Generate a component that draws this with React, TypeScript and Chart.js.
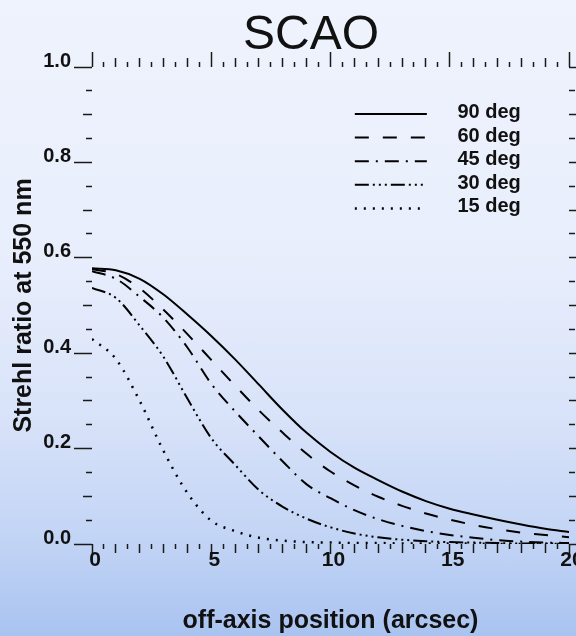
import React, { useEffect, useRef } from 'react';
import { Chart, registerables } from 'chart.js';

Chart.register(...registerables);

// ---- data ----
const offAxis = [0, 1, 2, 3, 4, 5, 6, 7, 8, 9, 10, 11, 12, 13, 14, 15, 16, 17, 18, 19, 20];
const strehl90 = [0.578, 0.574, 0.556, 0.523, 0.481, 0.436, 0.387, 0.334, 0.281, 0.233, 0.193, 0.160, 0.134, 0.110, 0.090, 0.074, 0.062, 0.051, 0.041, 0.032, 0.025];
const strehl60 = [0.576, 0.566, 0.536, 0.491, 0.440, 0.386, 0.332, 0.280, 0.233, 0.189, 0.152, 0.123, 0.099, 0.080, 0.064, 0.051, 0.040, 0.031, 0.024, 0.019, 0.014];
const strehl45 = [0.572, 0.556, 0.518, 0.474, 0.412, 0.336, 0.278, 0.225, 0.173, 0.125, 0.096, 0.071, 0.052, 0.038, 0.027, 0.019, 0.013, 0.008, 0.005, 0.003, 0.002];
const strehl30 = [0.537, 0.516, 0.458, 0.392, 0.305, 0.222, 0.166, 0.113, 0.078, 0.053, 0.035, 0.022, 0.014, 0.009, 0.006, 0.004, 0.003, 0.002, 0.001, 0.001, 0.000];
const strehl15 = [0.430, 0.388, 0.300, 0.195, 0.107, 0.049, 0.027, 0.013, 0.007, 0.004, 0.003, 0.002, 0.002, 0.001, 0.001, 0.001, 0.001, 0.000, 0.000, 0.000, 0.000];
const seriesLabels = ['90 deg', '60 deg', '45 deg', '30 deg', '15 deg'];
const xTickLabels = ['0', '5', '10', '15', '20'];
const yTickLabels = ['0.0', '0.2', '0.4', '0.6', '0.8', '1.0'];

const FONT = "'Liberation Sans', Arial, Helvetica, sans-serif";
const TICK_COLOR = '#1a1a1a';

const seriesValues = [strehl90, strehl60, strehl45, strehl30, strehl15];
const seriesDash = [[], [14, 14], [14, 7, 2, 7], [14, 4, 2, 4, 2, 4, 2, 4], [2, 7]];
const seriesWidth = [2, 2, 2, 2, 2.5];

// tick length helpers (major / mid / minor)
const yLen = (v: number, major: number) => {
  const k = Math.round(v * 20);
  if (k % 4 === 0) return major;
  if (k % 2 === 0) return 9;
  return 6;
};
const xLen = (v: number, major: number) => {
  const k = Math.round(v * 2);
  if (k % 10 === 0) return major;
  if (k % 2 === 0) return 9;
  return 5;
};
// ticks drawn from outer end to axis (left/top) vs from axis outwards (right/bottom)
const dashInward = (len: number, full: number) => (len >= full ? [] : [0, full - len, len, 200]);
const dashOutward = (len: number, full: number) => (len >= full ? [] : [len, 200]);

const insideLegend = {
  id: 'insideLegend',
  afterDatasetsDraw(chart: any) {
    const { ctx, chartArea: a } = chart;
    const w = a.right - a.left;
    const h = a.bottom - a.top;
    chart.data.datasets.forEach((ds: any, i: number) => {
      const y = a.top + h * (0.0985 + 0.0495 * i);
      const x1 = a.left + w * 0.551;
      const x2 = a.left + w * 0.702;
      const tx = a.left + w * 0.766;
      ctx.save();
      ctx.strokeStyle = ds.borderColor;
      ctx.lineWidth = ds.borderWidth;
      ctx.setLineDash(ds.borderDash || []);
      ctx.beginPath();
      ctx.moveTo(x1, y);
      ctx.lineTo(x2, y);
      ctx.stroke();
      ctx.setLineDash([]);
      ctx.fillStyle = '#111';
      ctx.font = `bold 20px ${FONT}`;
      ctx.textAlign = 'left';
      ctx.textBaseline = 'alphabetic';
      ctx.fillText(ds.label, tx, y + 4);
      ctx.restore();
    });
  },
};

export default function App() {
  const ref = useRef<HTMLCanvasElement | null>(null);

  useEffect(() => {
    document.body.style.margin = '0';
    const canvas = ref.current;
    if (!canvas) return;

    const datasets = seriesValues.map((vals, i) => ({
      label: seriesLabels[i],
      data: offAxis.map((x, j) => ({ x, y: vals[j] })),
      borderColor: '#000',
      backgroundColor: '#000',
      borderWidth: seriesWidth[i],
      borderDash: seriesDash[i],
      pointRadius: 0,
      fill: false,
      cubicInterpolationMode: 'monotone' as const,
      xAxisID: 'x',
      yAxisID: 'y',
    }));

    const chart = new Chart(canvas, {
      type: 'line',
      data: { datasets },
      plugins: [insideLegend],
      options: {
        responsive: false,
        animation: false,
        devicePixelRatio: 1,
        layout: { padding: 0 },
        plugins: {
          legend: { display: false },
          tooltip: { enabled: false },
          title: {
            display: true,
            text: 'SCAO',
            color: '#111',
            font: { family: FONT, size: 48, weight: 'normal', lineHeight: 1 },
            padding: { top: 12, bottom: 0 },
          },
        },
        scales: {
          x: {
            type: 'linear',
            position: 'bottom',
            min: 0,
            max: 20,
            border: { display: false },
            grid: {
              drawOnChartArea: false,
              drawTicks: true,
              tickLength: 10,
              tickColor: TICK_COLOR,
              tickWidth: 1.5,
              tickBorderDash: (c: any) => dashOutward(xLen(c.tick ? c.tick.value : 0, 10), 10),
            } as any,
            ticks: {
              stepSize: 0.5,
              autoSkip: false,
              maxRotation: 0,
              minRotation: 0,
              padding: -6,
              labelOffset: 3,
              color: '#111',
              font: { family: FONT, size: 21, weight: 'bold' },
              callback: (v: any) => {
                const k = Math.round(Number(v) * 2);
                return k % 10 === 0 ? xTickLabels[k / 10] : '';
              },
            },
            title: {
              display: true,
              text: 'off-axis position (arcsec)',
              color: '#111',
              font: { family: FONT, size: 25, weight: 'bold', lineHeight: 1.2 },
              padding: { top: 0, bottom: 0 },
            },
            afterFit: (s: any) => {
              s.height = 92;
            },
          },
          x2: {
            type: 'linear',
            position: 'top',
            min: 0,
            max: 20,
            border: { display: false },
            grid: {
              drawOnChartArea: false,
              drawTicks: true,
              tickLength: 15,
              tickColor: TICK_COLOR,
              tickWidth: 1.5,
              tickBorderDash: (c: any) => dashInward(xLen(c.tick ? c.tick.value : 0, 15), 15),
            } as any,
            ticks: {
              stepSize: 0.5,
              autoSkip: false,
              maxRotation: 0,
              minRotation: 0,
              callback: () => '',
            },
            afterFit: (s: any) => {
              s.height = 7;
            },
          },
          y: {
            type: 'linear',
            position: 'left',
            min: 0,
            max: 1,
            border: { display: false },
            grid: {
              drawOnChartArea: false,
              drawTicks: true,
              tickLength: 18,
              tickColor: TICK_COLOR,
              tickWidth: 1.5,
              tickBorderDash: (c: any) => dashInward(yLen(c.tick ? c.tick.value : 0, 18), 18),
            } as any,
            ticks: {
              stepSize: 0.05,
              autoSkip: false,
              padding: 3,
              labelOffset: -6,
              color: '#111',
              font: { family: FONT, size: 20, weight: 'bold' },
              callback: (v: any) => {
                const k = Math.round(Number(v) * 20);
                return k % 4 === 0 ? yTickLabels[k / 4] : '';
              },
            },
            title: {
              display: true,
              text: 'Strehl ratio at 550 nm',
              color: '#111',
              font: { family: FONT, size: 25, weight: 'bold', lineHeight: 1.2 },
              padding: { top: 9, bottom: 0 },
            },
            afterFit: (s: any) => {
              s.width = 92;
            },
          },
          y2: {
            type: 'linear',
            position: 'right',
            min: 0,
            max: 1,
            border: { display: false },
            grid: {
              drawOnChartArea: false,
              drawTicks: true,
              tickLength: 18,
              tickColor: TICK_COLOR,
              tickWidth: 1.5,
              tickBorderDash: (c: any) => dashOutward(yLen(c.tick ? c.tick.value : 0, 18), 18),
            } as any,
            ticks: {
              stepSize: 0.05,
              autoSkip: false,
              callback: () => '',
            },
            afterFit: (s: any) => {
              s.width = 53;
            },
          },
        },
      } as any,
    });

    return () => {
      chart.destroy();
    };
  }, []);

  return (
    <div
      style={{
        width: 576,
        height: 636,
        overflow: 'hidden',
        background:
          'linear-gradient(to bottom, #EFF3FD 0%, #E8EEFC 40%, #D9E3F9 65%, #C2D4F5 85%, #A9C3F0 100%)',
      }}
    >
      <canvas ref={ref} width={622} height={636} style={{ display: 'block', width: 622, height: 636 }} />
    </div>
  );
}
